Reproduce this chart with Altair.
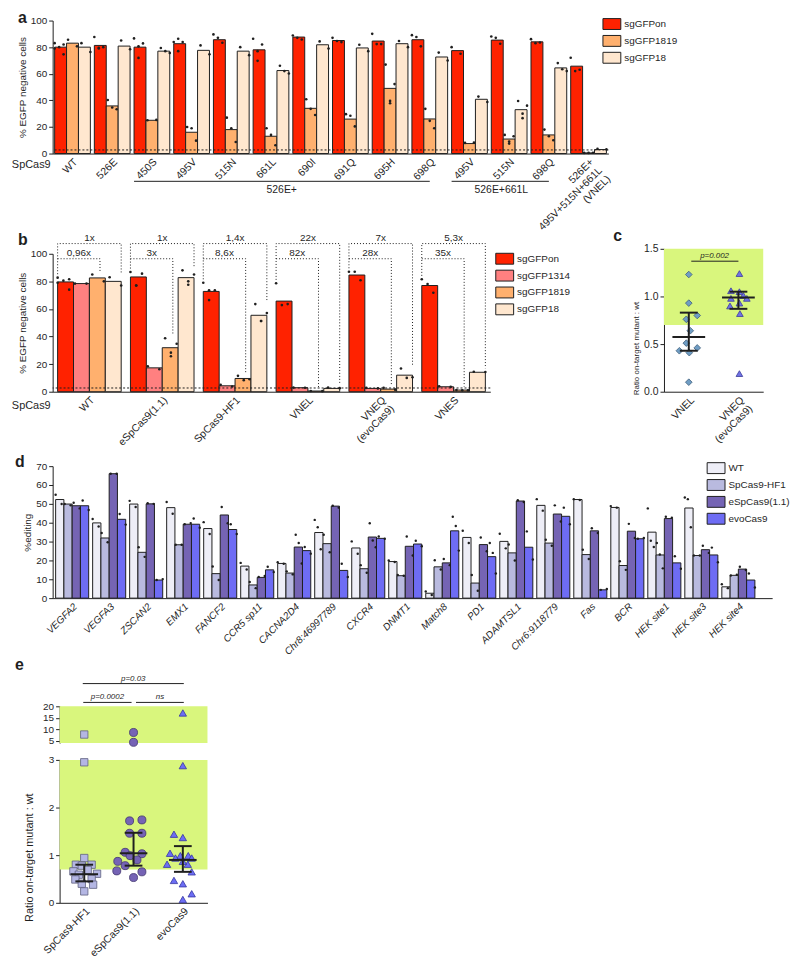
import altair as alt
import pandas as pd

FONT = "Liberation Sans"
INK = "#1f1f1f"
GREEN = "#D9F67D"
RECT = "M-1,-0.61L1,-0.61L1,0.61L-1,0.61Z"

# ---------------- panel a ----------------
a_groups = ["WT", "526E", "450S", "495V", "515N", "661L", "690I", "691Q", "695H", "698Q",
            "495V ", "515N ", "698Q ", "VNEL"]
a_series = ["sgGFPon", "sgGFP1819", "sgGFP18"]
a_colors = ["#FF2200", "#FFB06E", "#FFE7CF"]
a_on = [80, 81.3, 80, 82.6, 85.6, 78, 87.6, 85, 84.6, 85.6, 77.4, 85.3, 84, 65.7]
a_1819 = [83, 35.8, 25, 16, 18, 13, 34, 25.9, 49, 26, 7.5, 10.9, 14, 0.5]
a_18 = [80, 80.8, 77, 77.6, 77, 62.4, 81.8, 79.4, 82.6, 72.6, 40.8, 33, 64.4, 3]
a_on_dots = [[83, 82, 80, 79, 74.6], [87.6, 80, 79.5, 79], [86.6, 82.8, 80.6, 71.9], [83.8, 83.8, 86.3, 77],
             [89.6, 87, 83.3], [86.3, 82, 77, 69.7], [88.8, 87, 85.8], [87, 84.6, 83.8], [90, 82.3, 82.3],
             [89, 87.6, 80.6], [80, 75], [88, 87, 82.6], [86, 83, 83.5], [72, 62, 63]]
a_1819_dots = [[85.6, 80.6], [40.3, 34.6, 33.3], [25, 25.3], [20, 19, 9.7], [27, 19, 8.7], [19, 14, 6.2],
               [40.8, 33.6, 29], [29.6, 28.4, 20.4], [66.9, 52.2, 39.6, 37.8], [33.6, 24.6, 19], [8, 8.2],
               [14, 13, 9, 7.5], [18, 13, 10], [0.5, 0.5, 0.6]]
a_18_dots = [[83, 76.4], [85, 78.4], [79.4, 77, 75.6], [81.3, 74.6], [80, 74], [66, 62, 60.2], [84.3, 78.9],
             [81.8, 77], [84.6, 80], [75.9, 70], [42.8, 38.8], [39.5, 36, 30, 26.6], [68, 63.4, 62], [3.5, 3.1]]
a_ref_level = 2.7
a_under_start = ["450S", "495V "]
a_under_end = ["698Q", "698Q "]
a_under_label = ["526E+", "526E+661L"]

# ---------------- panel b ----------------
b_groups = ["WT", "eSpCas9(1.1)", "SpCas9-HF1", "VNEL", "VNEQ", "VNES"]
b_series = ["sgGFPon", "sgGFP1314", "sgGFP1819", "sgGFP18"]
b_colors = ["#FF2200", "#FF8080", "#FFB06E", "#FFE7CF"]
b_on = [79.6, 83.2, 72.7, 65.7, 84.6, 77]
b_1314 = [78.4, 17.3, 4.3, 2.9, 2.4, 3.6]
b_1819 = [82.5, 31.9, 9.6, 0.5, 1.9, 1.2]
b_18 = [80, 82.7, 55.4, 2.4, 12, 14.1]
b_on_dots = [[82.7, 81.5, 80.5, 79, 74], [86.8, 85.6, 77, 77], [79, 73.6, 73.6, 66.4], [78.6, 62.8, 63.5],
             [87, 87, 80.8], [81.5, 78, 71.7]]
b_1314_dots = [[78.4, 78.4], [18.5, 16.3], [5, 3.8], [3, 2.9], [2.8, 2.4], [4, 3.5]]
b_1819_dots = [[85, 80], [38.8, 34.8, 28.3, 25.7], [11.5, 8.4, 9], [0.5, 0.4], [2.8, 1.5], [1.2, 1, 1]]
b_18_dots = [[83, 77], [88, 85, 80, 77.5], [63.5, 57, 51.3, 51.3], [3, 2.6], [16.8, 10, 10.5], [14.5, 14.3]]
b_outer_labels = ["1x", "1x", "1,4x", "22x", "7x", "5,3x"]
b_inner_labels = ["0,96x", "3x", "8,6x", "82x", "28x", "35x"]
b_outer_level = 107.4
b_inner_level = 96.4
b_ref_level = 2.7

# ---------------- panel c ----------------
c_cats = ["VNEL", "VNEQ (evoCas9)"]
c_vnel = [1.23, 0.93, 0.76, 0.80, 0.64, 0.51, 0.46, 0.43, 0.41, 0.10]
c_vnel_jit = [0, 0, -0.05, 0.17, 0.03, -0.05, 0.17, -0.19, 0.01, 0]
c_vneq = [1.24, 1.06, 1.05, 1.01, 0.98, 0.98, 0.90, 0.93, 0.82, 0.19]
c_vneq_jit = [0.02, -0.15, 0.02, 0.1, -0.15, 0.17, -0.17, 0.02, 0.03, 0.02]
c_median = [0.575, 0.99]
c_lo = [0.43, 0.87]
c_hi = [0.83, 1.05]
c_band = [0.7, 1.5]
c_p = "p=0.002"

# ---------------- panel d ----------------
d_groups = ["VEGFA2", "VEGFA3", "ZSCAN2", "EMX1", "FANCF2", "CCR5 sp11", "CACNA2D4", "Chr8:46997789",
            "CXCR4", "DNMT1", "Match8", "PD1", "ADAMTSL1", "Chr6:9118779", "Fas", "BCR",
            "HEK site1", "HEK site3", "HEK site4"]
d_series = ["WT", "SpCas9-HF1", "eSpCas9(1.1)", "evoCas9"]
d_colors = ["#EEEEF7", "#B9BADF", "#7564B4", "#6E6CF4"]
d_wt = [52.3, 39.9, 49.9, 48, 36.9, 17, 18.4, 34.8, 26.6, 19.4, 2.6, 32.2, 30.1, 49.2, 52.3, 48.1, 35, 47.8, 6]
d_hf1 = [49.9, 31.9, 24.3, 28.3, 13, 7, 13.3, 28.9, 15.6, 11.9, 16.6, 8, 24, 29.2, 23.1, 17.3, 22.9, 22.6, 12.1]
d_esp = [49, 66, 50, 39.2, 44.1, 11, 27.1, 48.8, 32.4, 27.5, 18.7, 28.4, 51.5, 44.6, 35.7, 35.5, 42.2, 25.7, 15.4]
d_evo = [49, 41.8, 9.6, 39.2, 36.4, 15, 25.2, 14.7, 31.7, 28.7, 35.7, 22, 27, 43.4, 4.4, 31.5, 18.7, 22.9, 9.6]
d_wt_dots = [[54.8, 49.9], [42, 38], [51.6, 48.3], [51, 44.8], [40.3, 34], [18.7, 15.2], [19, 18.2],
             [41.5, 37.6, 25.9], [30.1, 23.5], [20, 19.2], [3.5, 1.7], [35.7, 29.2], [34.1, 26.4], [52.5, 46.4],
             [52.5, 52], [48.8, 48], [47.6, 30.4, 27.1], [53.4, 52.5, 37.6], [7.4, 5.3]]
d_hf1_dots = [[49.9, 49.2], [34.5, 29.6], [27, 21.9], [28.3, 28.3], [16.8, 9.6], [8.6, 5.3], [14.2, 12.6],
              [33.6, 24.3], [17.5, 13.5], [12.3, 11.9], [20.1, 15.2], [12.3, 3.9], [28.4, 20], [31, 27.8],
              [25.7, 20.8], [19.6, 15], [29.2, 23.1, 15.8], [22.6, 22.6], [12, 12.4]]
d_esp_dots = [[50.6, 47.6], [66, 66], [50.3, 50], [39.2, 39.8], [48.3, 39.7], [11.2, 11.7], [33.6, 29.2, 18.4],
              [49, 48], [39.7, 30.6, 27], [32.7, 22.6], [20.8, 17.5], [32.2, 24.9], [51.9, 51], [49.2, 40.6],
              [37.1, 34.5], [39.4, 31.9], [43.2, 42.6], [27.8, 24], [16.6, 14.9]]
d_evo_dots = [[51.8, 46.7], [44.6, 39], [9.6, 10.1], [42.2, 37.3], [39.2, 34], [16.6, 13.8], [27.1, 23.6],
              [18.2, 11.2], [32.7, 31.5], [30.4, 27.5], [43.2, 38.3, 25.2], [29.2, 24, 13.1], [35.4, 20.5],
              [48, 39.2], [4.4, 4.8], [31.5, 31.9], [22.2, 15.6], [26.8, 19], [13.1, 5.6]]

# ---------------- panel e ----------------
e_cats = ["SpCas9-HF1", "eSpCas9(1.1)", "evoCas9"]
e_hf1 = [2.95, 0.94, 0.8, 0.78, 0.8, 0.66, 0.69, 0.59, 0.61, 0.49, 0.5, 0.40, 0.38, 0.24]
e_hf1_jit = [0, 0, -0.17, -0.05, 0.15, -0.22, 0.07, -0.11, 0.26, -0.18, 0.15, -0.05, 0.18, 0]
e_esp = [1.72, 1.74, 1.46, 1.46, 1.06, 1.03, 0.99, 0.87, 0.9, 0.78, 0.67, 0.65, 0.53]
e_esp_jit = [-0.08, 0.17, -0.08, 0.17, -0.17, 0.17, -0.07, -0.32, 0.07, -0.17, -0.34, 0.17, 0]
e_evo = [2.88, 1.44, 1.37, 1.04, 0.99, 0.99, 0.94, 0.94, 0.81, 0.81, 0.87, 0.47, 0.4, 0.65, 0.19, 0.07]
e_evo_jit = [0, -0.18, 0, -0.26, -0.05, 0.11, -0.15, 0.18, -0.32, 0.1, 0, -0.18, 0, 0.18, 0.18, 0]
e_high = [[7.7], [8.6, 4.3], [17.1]]
e_median = [0.6, 1.04, 0.9]
e_lo = [0.45, 0.78, 0.65]
e_hi = [0.8, 1.47, 1.19]
e_band_low = [0.7, 3]
e_band_high = [4, 20]
e_p_labels = ["p=0.0002", "ns", "p=0.03"]
e_p_from = [0.98, 2.05, 0.97]
e_p_to = [1.96, 3.02, 3.02]
e_p_level = [21.7, 21.7, 29.9]

# ---------------- helpers ----------------
SLOTS = {1: [1], 2: [0, 2], 3: [0, 1, 2], 4: [0, 2, 1, 1], 5: [0, 2, 1, 0, 2]}


def bars_df(groups, series, values):
    return pd.DataFrame([{"group": g, "series": s, "value": values[j][i]}
                         for j, s in enumerate(series) for i, g in enumerate(groups)])


def dots_df(groups, series, dots):
    rows = []
    for j, s in enumerate(series):
        for i, g in enumerate(groups):
            vals = dots[j][i]
            for v, k in zip(vals, SLOTS[len(vals)]):
                rows.append({"group": g, "series": s, "value": v, "sub": f"{s}|{k}"})
    return pd.DataFrame(rows)


def one(text):
    return pd.DataFrame({"t": [text]})


def letter(ch, x, y):
    return alt.Chart(one(ch)).mark_text(align="left", baseline="alphabetic", fontSize=16, fontWeight="bold",
                                        font=FONT, color=INK).encode(text="t:N", x=alt.value(x), y=alt.value(y))


def legend(x, y):
    return alt.Legend(title=None, orient="none", legendX=x, legendY=y, symbolType=RECT, symbolSize=324,
                      symbolStrokeColor=INK, symbolStrokeWidth=1, symbolOpacity=1, labelFontSize=10,
                      labelOffset=3, rowPadding=-6, padding=0)


def bar_panel(groups, series, colors, values, dots, ydom, yvals, ytitle, pad_in, pad_out, align,
              xaxis, leg, ref_level=None, dot_size=7):
    xs = alt.Scale(domain=groups, paddingInner=pad_in, paddingOuter=pad_out, align=align)

    def X(f="group", **kw):
        return alt.X(f"{f}:N", scale=xs, axis=xaxis, **kw)

    ys = alt.Scale(domain=ydom, nice=False)
    yax = alt.Axis(values=yvals, title=ytitle)

    def Y(f="value"):
        return alt.Y(f"{f}:Q", scale=ys, axis=yax)

    xo = alt.XOffset("series:N", scale=alt.Scale(domain=series, paddingInner=0, paddingOuter=0))
    subs = [f"{s}|{k}" for s in series for k in range(3)]
    xo_sub = alt.XOffset("sub:N", scale=alt.Scale(domain=subs, paddingInner=0, paddingOuter=0))
    bars = alt.Chart(bars_df(groups, series, values)).mark_bar(stroke=INK, strokeWidth=1).encode(
        x=X(), xOffset=xo, y=Y(),
        fill=alt.Fill("series:N", scale=alt.Scale(domain=series, range=colors), legend=leg))
    pts = alt.Chart(dots_df(groups, series, dots)).mark_circle(size=dot_size, color=INK, opacity=1).encode(
        x=X(), xOffset=xo_sub, y=Y())
    layers = [bars, pts]
    if ref_level is not None:
        layers.append(alt.Chart(pd.DataFrame({"value": [ref_level]})).mark_rule(
            color=INK, strokeDash=[2, 2], strokeWidth=1).encode(y=Y()))
    return layers, X, Y, xo


# ---------------- build a ----------------
A_W, A_H = 560, 134
a_expr = ("datum.value == 'VNEL' ? ['526E+', '495V+515N+661L', '(VNEL)'] : trim(datum.value)")
a_xaxis = alt.Axis(title=None, labelAngle=-45, ticks=False, labelFontSize=10.5, labelPadding=3,
                   labelExpr=a_expr, labelLineHeight=12, labelOverlap=False)
a_layers, aX, aY, a_xo = bar_panel(a_groups, a_series, a_colors, [a_on, a_1819, a_18],
                                   [a_on_dots, a_1819_dots, a_18_dots], [0, 100], [0, 20, 40, 60, 80, 100],
                                   "% EGFP negative cells", 0.1, 0.05, 0.5, a_xaxis, legend(554, -6),
                                   ref_level=a_ref_level)
a_under = alt.Chart(pd.DataFrame({"start": a_under_start, "end": a_under_end})).mark_rule(
    color=INK, strokeWidth=1).encode(x=aX("start", bandPosition=0), x2=alt.X2("end"), y=alt.value(A_H + 28))
a_t1 = alt.Chart(pd.DataFrame({"mid": ["661L"], "t": [a_under_label[0]]})).mark_text(
    fontSize=10.5, baseline="middle", color=INK).encode(x=aX("mid", bandPosition=0.8), y=alt.value(A_H + 37),
                                                         text="t:N")
a_t2 = alt.Chart(pd.DataFrame({"mid": ["515N "], "t": [a_under_label[1]]})).mark_text(
    fontSize=10.5, baseline="middle", color=INK).encode(x=aX("mid", bandPosition=0.28), y=alt.value(A_H + 37),
                                                         text="t:N")
a_sp = alt.Chart(one("SpCas9")).mark_text(align="right", baseline="middle", fontSize=11, color=INK).encode(
    text="t:N", x=alt.value(-2), y=alt.value(A_H + 12))
panel_a = alt.layer(*a_layers, a_under, a_t1, a_t2, a_sp, letter("a", -35, 2)).resolve_scale(
    xOffset="independent").properties(width=A_W, height=A_H)

# ---------------- build b ----------------
B_W, B_H = 441, 139
b_expr = "datum.value == 'VNEQ' ? ['VNEQ', '(evoCas9)'] : datum.value"
b_xaxis = alt.Axis(title=None, labelAngle=-45, ticks=False, labelFontSize=10.5, labelPadding=3,
                   labelExpr=b_expr, labelLineHeight=12, labelOverlap=False, orient="bottom")
b_layers, bX, bY, b_xo = bar_panel(b_groups, b_series, b_colors, [b_on, b_1314, b_1819, b_18],
                                   [b_on_dots, b_1314_dots, b_1819_dots, b_18_dots], [0, 100],
                                   [0, 20, 40, 60, 80, 100], "% EGFP negative cells", 0.127, 0.068, 0.5,
                                   b_xaxis, legend(446, -4.5), ref_level=b_ref_level)
brk_rows = []
for i, g in enumerate(b_groups):
    on_end = max(b_on_dots[i] + [b_on[i]]) + 2.5
    e18 = max(b_18_dots[i] + [b_18[i]]) + 2.5
    e1819 = max(b_1819_dots[i] + [b_1819[i]]) + 2.5
    outer = [("sgGFPon", on_end), ("sgGFPon", b_outer_level), ("sgGFP18", b_outer_level), ("sgGFP18", e18)]
    inner = [("sgGFPon", b_inner_level), ("sgGFP1819", b_inner_level), ("sgGFP1819", e1819)]
    for k, (s, v) in enumerate(outer):
        brk_rows.append({"group": g, "series": s, "value": v, "bid": f"o{i}", "ord": k})
    for k, (s, v) in enumerate(inner):
        brk_rows.append({"group": g, "series": s, "value": v, "bid": f"i{i}", "ord": k})
b_brk = alt.Chart(pd.DataFrame(brk_rows)).mark_line(color=INK, strokeDash=[1, 2], strokeWidth=1).encode(
    x=bX(), xOffset=b_xo, y=bY(), detail="bid:N", order="ord:Q")
b_out_t = alt.Chart(pd.DataFrame({"group": b_groups, "value": [b_outer_level] * 6, "t": b_outer_labels})).mark_text(
    baseline="bottom", fontSize=10, dy=-1, color=INK).encode(x=bX(), y=bY(), text="t:N")
b_in_t = alt.Chart(pd.DataFrame({"group": b_groups, "series": ["sgGFP1314"] * 6, "value": [b_inner_level] * 6,
                                 "t": b_inner_labels})).mark_text(
    baseline="bottom", fontSize=10, dy=-1, color=INK).encode(x=bX(), xOffset=b_xo, y=bY(), text="t:N")
b_sp = alt.Chart(one("SpCas9")).mark_text(align="right", baseline="middle", fontSize=11, color=INK).encode(
    text="t:N", x=alt.value(-2), y=alt.value(B_H + 14))
panel_b = alt.layer(*b_layers, b_brk, b_out_t, b_in_t, b_sp, letter("b", -35, -9)).resolve_scale(
    xOffset="independent")

# ---------------- build c (drawn in the same frame as b, on its own scales) ----------------
C_X0, C_W, C_H = 616, 100, 139
cxs = alt.Scale(domain=[0.5, 2.5], range=[C_X0, C_X0 + C_W], nice=False, zero=False)
c_xaxis = alt.Axis(title=None, values=[1, 2], ticks=False, labelAngle=-45, labelFontSize=10.5, labelPadding=3,
                   labelExpr="datum.value == 1 ? 'VNEL' : ['VNEQ', '(evoCas9)']", labelLineHeight=12,
                   labelFlush=False, grid=False, orient="bottom", labelOverlap=False)
cys = alt.Scale(domain=[0, 1.5], range=[C_H, -5], nice=False, zero=False)
c_yaxis = alt.Axis(values=[0, 0.5, 1, 1.5], format=".1f", title="Ratio on-target  mutant : wt",
                   titleFontSize=8, labelFontSize=10.5, titleY=95, orient="left", offset=-C_X0,
                   labelOverlap=False)


def cX(f):
    return alt.X(f"{f}:Q", scale=cxs, axis=c_xaxis)


def cY(f):
    return alt.Y(f"{f}:Q", scale=cys, axis=c_yaxis)


c_green = alt.Chart(pd.DataFrame({"x": [0.5], "x2": [2.5], "y": [c_band[0]], "y2": [c_band[1]]})).mark_rect(
    color=GREEN).encode(x=cX("x"), x2="x2", y=cY("y"), y2="y2")
c_pts1 = alt.Chart(pd.DataFrame({"x": [1 + j for j in c_vnel_jit], "v": c_vnel})).mark_point(
    shape="diamond", filled=True, size=45, fill="#6F9DC4", stroke="#3f5f7a", strokeWidth=0.8, opacity=1).encode(
    x=cX("x"), y=cY("v"))
c_pts2 = alt.Chart(pd.DataFrame({"x": [2 + j for j in c_vneq_jit], "v": c_vneq})).mark_point(
    shape="triangle-up", filled=True, size=45, fill="#7173E6", stroke="#3b3b99", strokeWidth=0.8,
    opacity=1).encode(x=cX("x"), y=cY("v"))
c_stat = pd.DataFrame({"cat": [1, 2], "med": c_median, "lo": c_lo, "hi": c_hi})
c_stat["m0"] = c_stat["cat"] - 0.33
c_stat["m1"] = c_stat["cat"] + 0.33
c_stat["c0"] = c_stat["cat"] - 0.18
c_stat["c1"] = c_stat["cat"] + 0.18
c_med = alt.Chart(c_stat).mark_rule(color=INK, strokeWidth=2).encode(x=cX("m0"), x2="m1", y=cY("med"))
c_err = alt.Chart(c_stat).mark_rule(color=INK, strokeWidth=2).encode(x=cX("cat"), y=cY("lo"), y2="hi")
c_cap1 = alt.Chart(c_stat).mark_rule(color=INK, strokeWidth=2).encode(x=cX("c0"), x2="c1", y=cY("lo"))
c_cap2 = alt.Chart(c_stat).mark_rule(color=INK, strokeWidth=2).encode(x=cX("c0"), x2="c1", y=cY("hi"))
c_pdf = pd.DataFrame({"x0": [1.05], "x1": [2.0], "xm": [1.52], "y": [1.37], "t": [c_p]})
c_pl = alt.Chart(c_pdf).mark_rule(color=INK, strokeWidth=1).encode(x=cX("x0"), x2="x1", y=cY("y"))
c_pt = alt.Chart(c_pdf).mark_text(fontSize=8, fontStyle="italic", baseline="bottom", dy=-1, color=INK).encode(
    x=cX("xm"), y=cY("y"), text="t:N")
panel_c = alt.layer(c_green, c_pts1, c_pts2, c_med, c_err, c_cap1, c_cap2, c_pl, c_pt,
                    letter("c", C_X0 - 51, -13))

panel_bc = alt.layer(panel_b, panel_c).resolve_scale(x="independent", y="independent").properties(
    width=B_W, height=B_H)

# ---------------- build d ----------------
D_W, D_H = 725, 133
d_xaxis = alt.Axis(title=None, labelAngle=-45, ticks=False, labelFontSize=10, labelFontStyle="italic",
                   labelPadding=3, labelOverlap=False)
d_layers, dX, dY, d_xo = bar_panel(d_groups, d_series, d_colors, [d_wt, d_hf1, d_esp, d_evo],
                                   [d_wt_dots, d_hf1_dots, d_esp_dots, d_evo_dots], [0, 70],
                                   [0, 10, 20, 30, 40, 50, 60, 70], "%editing", 0.107, 0.2735, 0.147,
                                   d_xaxis, legend(659, -7.5), dot_size=6)
panel_d = alt.layer(*d_layers, letter("d", -38, 1)).resolve_scale(
    xOffset="independent").properties(width=D_W, height=D_H)

# ---------------- build e ----------------
E_W, EU_H, EL_H = 149, 37, 144
exs = alt.Scale(domain=[0.5, 3.5], nice=False, zero=False)
e_xaxis = alt.Axis(title=None, values=[1, 2, 3], ticks=False, labelAngle=-45, labelFontSize=10.5,
                   labelPadding=3, labelFlush=False, labelOverlap=False,
                   labelExpr="['', 'SpCas9-HF1', 'eSpCas9(1.1)', 'evoCas9'][datum.value]")
eus = alt.Scale(domain=e_band_high, nice=False, zero=False)
els = alt.Scale(domain=[0, 3], nice=False, zero=False)
eu_axis = alt.Axis(values=[5, 10, 15, 20], title=None, labelFontSize=10, labelOverlap=False)
el_axis = alt.Axis(values=[0, 1, 2, 3], title="Ratio on-target mutant : wt", labelFontSize=10,
                   titleFontSize=11, titleY=98, titlePadding=14, labelOverlap=False)
e_styles = [("square", "#B4B6E3", "#5f6080", 55), ("circle", "#7563B5", "#40346e", 65),
            ("triangle-up", "#6C6DF4", "#3535a0", 55)]


def eX(f, axis):
    return alt.X(f"{f}:Q", scale=exs, axis=axis)


def eYu(f):
    return alt.Y(f"{f}:Q", scale=eus, axis=eu_axis)


def eYl(f):
    return alt.Y(f"{f}:Q", scale=els, axis=el_axis)


eu_green = alt.Chart(pd.DataFrame({"x": [0.5], "x2": [3.5], "y": [e_band_high[0]], "y2": [e_band_high[1]]})).mark_rect(
    color=GREEN).encode(x=eX("x", None), x2="x2", y=eYu("y"), y2="y2")
eu_layers = [eu_green]
for i, vals in enumerate(e_high):
    shp, fil, stk, sz = e_styles[i]
    eu_layers.append(alt.Chart(pd.DataFrame({"x": [i + 1] * len(vals), "v": vals})).mark_point(
        shape=shp, filled=True, size=sz, fill=fil, stroke=stk, strokeWidth=0.8, opacity=1).encode(
        x=eX("x", None), y=eYu("v")))
e_pdf = pd.DataFrame({"x0": e_p_from, "x1": e_p_to, "y": e_p_level, "t": e_p_labels})
e_pdf["xm"] = (e_pdf["x0"] + e_pdf["x1"]) / 2
eu_layers.append(alt.Chart(e_pdf).mark_rule(color=INK, strokeWidth=1).encode(
    x=eX("x0", None), x2="x1", y=eYu("y")))
eu_layers.append(alt.Chart(e_pdf).mark_text(fontSize=8, fontStyle="italic", baseline="bottom", dy=-1,
                                            color=INK).encode(x=eX("xm", None), y=eYu("y"), text="t:N"))
eu_layers.append(letter("e", -45, -37))
e_up = alt.layer(*eu_layers).properties(width=E_W, height=EU_H)

el_green = alt.Chart(pd.DataFrame({"x": [0.5], "x2": [3.5], "y": [e_band_low[0]], "y2": [e_band_low[1]]})).mark_rect(
    color=GREEN).encode(x=eX("x", e_xaxis), x2="x2", y=eYl("y"), y2="y2")
el_layers = [el_green]
for i, (vals, jit) in enumerate([(e_hf1, e_hf1_jit), (e_esp, e_esp_jit), (e_evo, e_evo_jit)]):
    shp, fil, stk, sz = e_styles[i]
    el_layers.append(alt.Chart(pd.DataFrame({"x": [i + 1 + j for j in jit], "v": vals})).mark_point(
        shape=shp, filled=True, size=sz, fill=fil, stroke=stk, strokeWidth=0.8, opacity=1).encode(
        x=eX("x", e_xaxis), y=eYl("v")))
e_stat = pd.DataFrame({"cat": [1, 2, 3], "med": e_median, "lo": e_lo, "hi": e_hi})
e_stat["m0"] = e_stat["cat"] - 0.28
e_stat["m1"] = e_stat["cat"] + 0.28
e_stat["c0"] = e_stat["cat"] - 0.18
e_stat["c1"] = e_stat["cat"] + 0.18
el_layers += [
    alt.Chart(e_stat).mark_rule(color=INK, strokeWidth=2).encode(x=eX("m0", e_xaxis), x2="m1", y=eYl("med")),
    alt.Chart(e_stat).mark_rule(color=INK, strokeWidth=2).encode(x=eX("cat", e_xaxis), y=eYl("lo"), y2="hi"),
    alt.Chart(e_stat).mark_rule(color=INK, strokeWidth=2).encode(x=eX("c0", e_xaxis), x2="c1", y=eYl("lo")),
    alt.Chart(e_stat).mark_rule(color=INK, strokeWidth=2).encode(x=eX("c0", e_xaxis), x2="c1", y=eYl("hi")),
]
e_low = alt.layer(*el_layers).properties(width=E_W, height=EL_H)

spacer = alt.Chart(one("")).mark_text().encode(text="t:N").properties(width=7, height=10)

# ---------------- compose ----------------
col_e = alt.vconcat(e_up, e_low, spacing=17, bounds="flush")
row_e = alt.hconcat(spacer, col_e, spacing=0, bounds="flush")
de = alt.vconcat(panel_d, row_e, spacing=109, bounds="flush").resolve_scale(fill="independent")
bcde = alt.vconcat(panel_bc, de, spacing=75, bounds="flush").resolve_scale(fill="independent")
chart = alt.vconcat(panel_a, bcde, spacing=101, bounds="flush").resolve_scale(fill="independent").properties(
    padding={"left": 3, "top": -2, "right": 2, "bottom": 0}
).configure(font=FONT).configure_view(stroke=None).configure_axis(
    labelFont=FONT, titleFont=FONT, labelColor=INK, titleColor=INK, domainColor=INK, tickColor=INK,
    grid=False, labelFontSize=10, titleFontSize=10, titleFontWeight="normal", tickSize=4,
    domainWidth=1, tickWidth=1, labelPadding=2, titlePadding=3
).configure_legend(labelFont=FONT, labelColor=INK).configure_text(font=FONT)

chart.save("out.html", embed_options={"renderer": "svg", "actions": False})
